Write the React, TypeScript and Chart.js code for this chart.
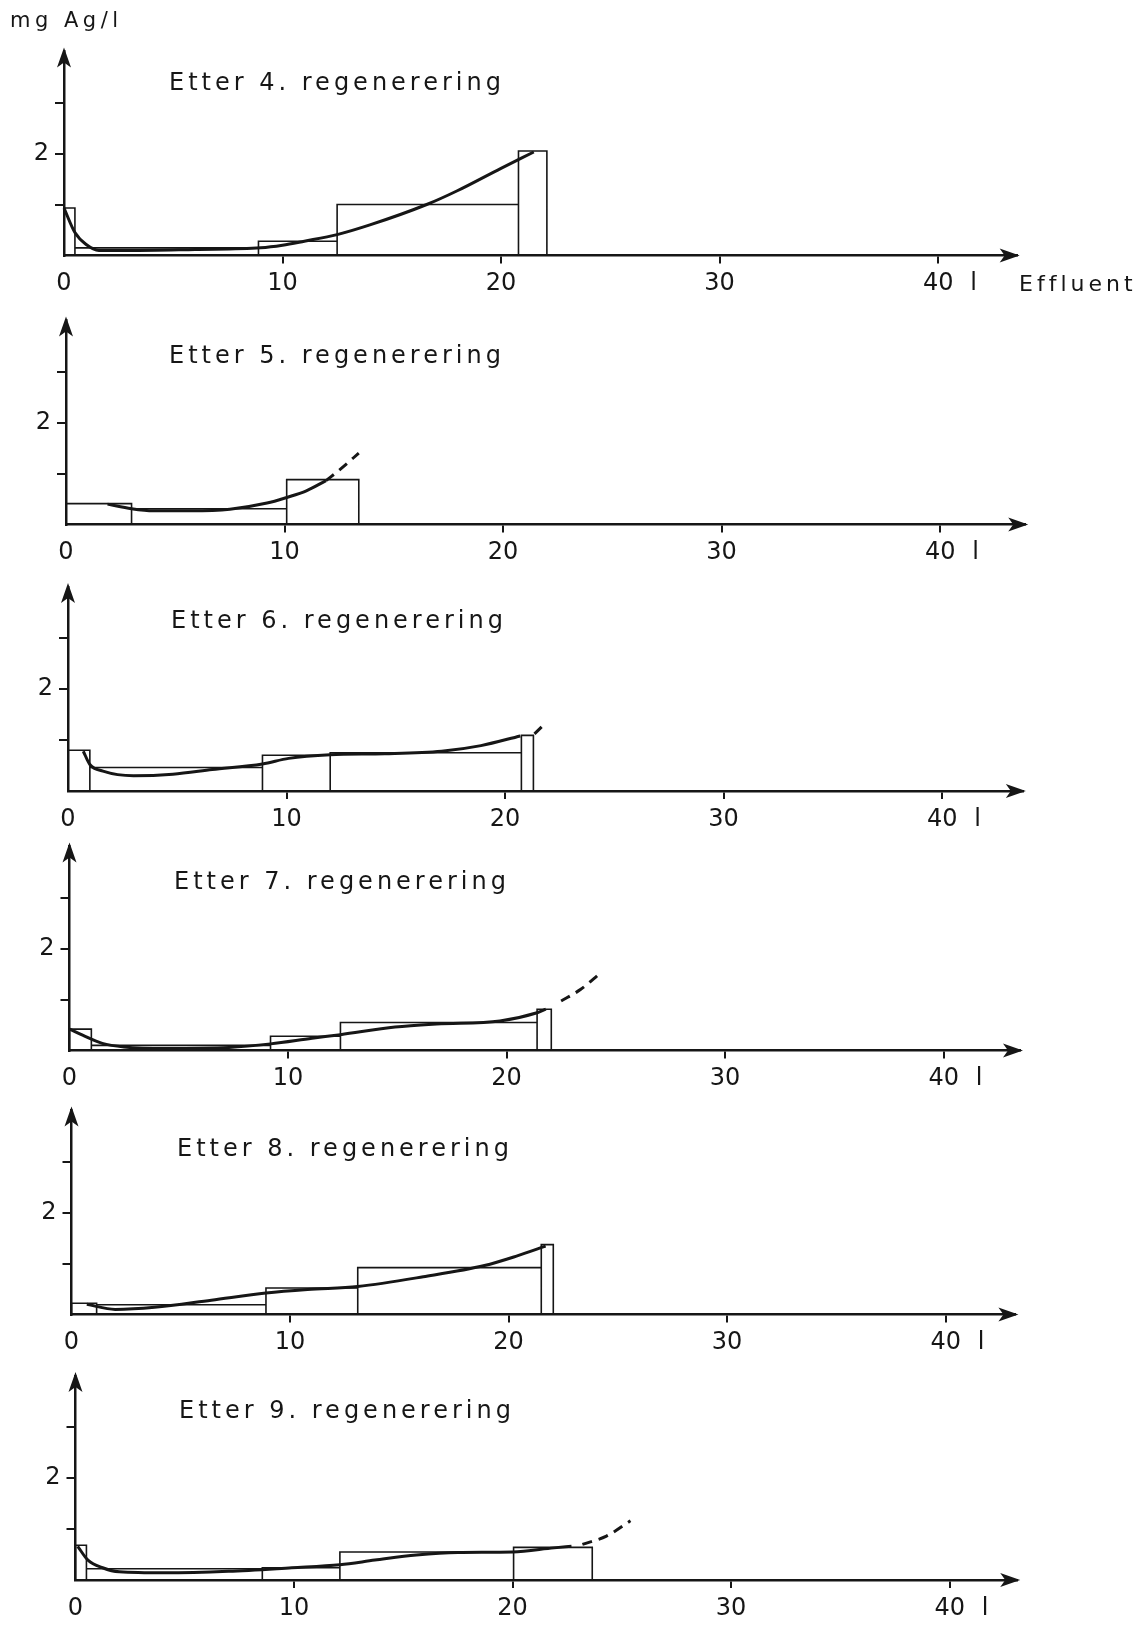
import React, { useEffect, useRef } from "react";
import { Chart, registerables } from "chart.js";

Chart.register(...registerables);

// ---------------- data ----------------
const panelTitles = [
  "Etter 4. regenerering",
  "Etter 5. regenerering",
  "Etter 6. regenerering",
  "Etter 7. regenerering",
  "Etter 8. regenerering",
  "Etter 9. regenerering",
];
const yAxisTitle = "mg Ag/l";
const xAxisTitle = "Effluent";

const xTickValues = [0, 10, 20, 30, 40];
const xTickLabels = ["0", "10", "20", "30", "40 l"];
const yTickValues = [1, 2, 3];
const yTickLabels = ["", "2", ""];

// Etter 4. regenerering
const edges4 = [0, 0.5, 8.9, 12.5, 20.8, 22.1];
const heights4 = [0.93, 0.15, 0.28, 1.0, 2.05];
const curve4X = [0, 0.5, 1, 1.6, 3, 6, 9, 10, 11, 12.5, 14, 16.6, 18, 20, 21.5];
const curve4Y = [0.93, 0.45, 0.22, 0.1, 0.1, 0.12, 0.15, 0.2, 0.28, 0.41, 0.6, 1.0, 1.27, 1.71, 2.03];
const dash4X: number[] = [];
const dash4Y: number[] = [];

// Etter 5. regenerering
const edges5 = [0, 3.0, 10.1, 13.4];
const heights5 = [0.41, 0.31, 0.88];
const curve5X = [1.9, 3, 4, 5.7, 7.5, 9.2, 10.1, 11, 11.9];
const curve5Y = [0.4, 0.31, 0.27, 0.27, 0.3, 0.42, 0.53, 0.66, 0.86];
const dash5X = [11.9, 12.6, 13.4];
const dash5Y = [0.86, 1.1, 1.4];

// Etter 6. regenerering
const edges6 = [0, 1.0, 8.9, 12.0, 20.75, 21.3];
const heights6 = [0.8, 0.46, 0.7, 0.75, 1.09];
const curve6X = [0.7, 1.0, 1.6, 3.0, 4.8, 6.6, 8.9, 10.1, 12, 14.5, 17.1, 18.9, 20.7];
const curve6Y = [0.78, 0.52, 0.39, 0.3, 0.33, 0.42, 0.53, 0.64, 0.71, 0.73, 0.78, 0.89, 1.08];
const dash6X = [21.35, 21.85];
const dash6Y = [1.12, 1.33];

// Etter 7. regenerering
const edges7 = [0, 1.0, 9.2, 12.4, 21.4, 22.05];
const heights7 = [0.42, 0.1, 0.28, 0.55, 0.81];
const curve7X = [0, 0.6, 1.5, 2.5, 4.4, 7.3, 9.2, 11.1, 12.4, 14.9, 16.8, 19.7, 21.4, 21.8];
const curve7Y = [0.42, 0.3, 0.14, 0.07, 0.04, 0.06, 0.13, 0.24, 0.31, 0.46, 0.52, 0.58, 0.74, 0.81];
const dash7X = [22.5, 23.4, 24.3];
const dash7Y = [0.97, 1.2, 1.52];

// Etter 8. regenerering
const edges8 = [0, 1.15, 8.9, 13.1, 21.5, 22.05];
const heights8 = [0.22, 0.19, 0.52, 0.92, 1.37];
const curve8X = [0.7, 2.0, 3.8, 6.4, 8.9, 10.8, 13.1, 16.1, 18.9, 20.4, 21.7];
const curve8Y = [0.2, 0.1, 0.14, 0.28, 0.42, 0.49, 0.55, 0.74, 0.96, 1.15, 1.34];
const dash8X: number[] = [];
const dash8Y: number[] = [];

// Etter 9. regenerering
const edges9 = [0, 0.5, 8.55, 12.1, 20.05, 23.65];
const heights9 = [0.68, 0.22, 0.24, 0.55, 0.64];
const curve9X = [0.1, 0.57, 1.24, 2, 4.1, 7, 9.9, 12.1, 13.7, 15.6, 17.5, 20, 21.9, 22.7];
const curve9Y = [0.66, 0.39, 0.24, 0.16, 0.14, 0.17, 0.24, 0.3, 0.39, 0.49, 0.54, 0.55, 0.63, 0.66];
const dash9X = [23.2, 24.3, 25.4];
const dash9Y = [0.7, 0.86, 1.16];

const panelEdges = [edges4, edges5, edges6, edges7, edges8, edges9];
const panelHeights = [heights4, heights5, heights6, heights7, heights8, heights9];
const panelCurveX = [curve4X, curve5X, curve6X, curve7X, curve8X, curve9X];
const panelCurveY = [curve4Y, curve5Y, curve6Y, curve7Y, curve8Y, curve9Y];
const panelDashX = [dash4X, dash5X, dash6X, dash7X, dash8X, dash9X];
const panelDashY = [dash4Y, dash5Y, dash6Y, dash7Y, dash8Y, dash9Y];

// ---------------- layout / style ----------------
const FONT = "'DejaVu Sans', sans-serif";
const INK = "#161616";
const PAGE_W = 1131;
const PAGE_H = 1618;
const UNIT_X = 21.85;
const UNIT_Y = 51;
const Y_MAX = 4;

const AXIS_X = [64, 66, 68, 69.5, 71.5, 75.5];
const AXIS_Y = [255.5, 524.5, 791, 1050.5, 1314.5, 1580];
const X_MAX = [43.6, 43.9, 43.7, 43.5, 43.2, 43.1];
const TITLE_X = [169, 169, 171, 174, 177, 179];
const TITLE_RISE = [165.5, 161.5, 163.5, 162, 159, 162];

function outline(edges: number[], heights: number[]) {
  const pts: { x: number; y: number }[] = [];
  for (let i = 0; i < heights.length; i++) {
    pts.push({ x: edges[i], y: 0 });
    pts.push({ x: edges[i], y: heights[i] });
    pts.push({ x: edges[i + 1], y: heights[i] });
    pts.push({ x: edges[i + 1], y: 0 });
  }
  return pts;
}

function zip(xs: number[], ys: number[]) {
  return xs.map((x, i) => ({ x, y: ys[i] }));
}

const decoPlugin = {
  id: "deco",
  afterDraw(chart: any) {
    const o = chart.options.plugins.deco;
    const ctx = chart.ctx;
    const xs = chart.scales.x;
    const ys = chart.scales.y;
    const ox = xs.getPixelForValue(0);
    const oy = ys.getPixelForValue(0);
    const top = ys.getPixelForValue(ys.max);
    const right = xs.getPixelForValue(xs.max);
    ctx.save();
    ctx.fillStyle = INK;
    // y arrow head
    ctx.beginPath();
    ctx.moveTo(ox, top - 4);
    ctx.lineTo(ox + 7, top + 16);
    ctx.lineTo(ox, top + 11);
    ctx.lineTo(ox - 7, top + 16);
    ctx.closePath();
    ctx.fill();
    // x arrow head
    ctx.beginPath();
    ctx.moveTo(right + 3, oy);
    ctx.lineTo(right - 17, oy - 7);
    ctx.lineTo(right - 12, oy);
    ctx.lineTo(right - 17, oy + 7);
    ctx.closePath();
    ctx.fill();
    // texts
    ctx.textAlign = "left";
    ctx.textBaseline = "alphabetic";
    ctx.font = `24px ${FONT}`;
    ctx.letterSpacing = "4px";
    ctx.fillText(o.title, o.titleX, oy - o.titleRise);
    if (o.yTitle) {
      ctx.font = `21px ${FONT}`;
      ctx.letterSpacing = "4.5px";
      ctx.fillText(o.yTitle, o.yTitleX, o.yTitleY);
    }
    if (o.xTitle) {
      ctx.font = `22px ${FONT}`;
      ctx.letterSpacing = "4px";
      ctx.fillText(o.xTitle, o.xTitleX, oy + o.xTitleDrop);
    }
    ctx.letterSpacing = "0px";
    ctx.restore();
  },
};

function Panel({ i }: { i: number }) {
  const ref = useRef<HTMLCanvasElement>(null);
  const baseRoot = AXIS_Y[i] - 8;
  const top = i === 0 ? 0 : Math.round(baseRoot - 232);
  const bottom = Math.min(PAGE_H, Math.round(baseRoot + 44));
  const h = bottom - top;
  const left = AXIS_X[i] - 8;
  const plotW = X_MAX[i] * UNIT_X;
  const baseLocal = baseRoot - top;
  const belowAxis = h - baseLocal;

  useEffect(() => {
    if (!ref.current) return;
    const datasets: any[] = [
      {
        data: outline(panelEdges[i], panelHeights[i]),
        borderColor: INK,
        borderWidth: 1.6,
        pointRadius: 0,
        tension: 0,
        fill: false,
        clip: false,
      },
      {
        data: zip(panelCurveX[i], panelCurveY[i]),
        borderColor: INK,
        borderWidth: 3,
        pointRadius: 0,
        cubicInterpolationMode: "monotone",
        fill: false,
        clip: false,
      },
    ];
    if (panelDashX[i].length) {
      datasets.push({
        data: zip(panelDashX[i], panelDashY[i]),
        borderColor: INK,
        borderWidth: 3,
        borderDash: [10, 7],
        pointRadius: 0,
        cubicInterpolationMode: "monotone",
        fill: false,
        clip: false,
      });
    }
    const chart = new Chart(ref.current, {
      type: "line",
      data: { datasets },
      plugins: [decoPlugin as any],
      options: {
        animation: false,
        responsive: false,
        devicePixelRatio: 1,
        events: [],
        layout: {
          autoPadding: false,
          padding: {
            left: 0,
            top: baseLocal - Y_MAX * UNIT_Y,
            right: PAGE_W - left - plotW,
            bottom: 0,
          },
        },
        plugins: {
          legend: { display: false },
          tooltip: { enabled: false },
          title: { display: false },
          deco: {
            title: panelTitles[i],
            titleX: TITLE_X[i] - 8,
            titleRise: TITLE_RISE[i],
            yTitle: i === 0 ? yAxisTitle : null,
            yTitleX: 2,
            yTitleY: 19,
            xTitle: i === 0 ? xAxisTitle : null,
            xTitleX: 1011,
            xTitleDrop: 35,
          },
        } as any,
        scales: {
          x: {
            type: "linear",
            min: 0,
            max: X_MAX[i],
            afterFit: (s: any) => {
              s.height = belowAxis;
            },
            afterBuildTicks: (s: any) => {
              s.ticks = xTickValues.map((v) => ({ value: v }));
            },
            border: { display: true, color: INK, width: 2.5 },
            grid: {
              drawOnChartArea: false,
              drawTicks: true,
              tickLength: 8,
              lineWidth: 2,
              color: (c: any) => (c.tick && c.tick.value === 0 ? "rgba(0,0,0,0)" : INK),
            },
            ticks: {
              autoSkip: false,
              maxRotation: 0,
              minRotation: 0,
              padding: 6,
              color: INK,
              font: { family: FONT, size: 24 },
              callback: (v: any) => {
                const k = xTickValues.indexOf(Number(v));
                const s = k >= 0 ? xTickLabels[k] : "";
                if (s.includes(" ")) {
                  const [a, b] = s.split(" ");
                  return "\u2003" + a + "\u2002\u2009" + b;
                }
                return s;
              },
            },
          },
          y: {
            type: "linear",
            min: 0,
            max: Y_MAX,
            afterFit: (s: any) => {
              s.width = left;
            },
            afterBuildTicks: (s: any) => {
              s.ticks = yTickValues.map((v) => ({ value: v }));
            },
            border: { display: true, color: INK, width: 2.5 },
            grid: {
              drawOnChartArea: false,
              drawTicks: true,
              tickLength: 9,
              lineWidth: 2,
              color: INK,
            },
            ticks: {
              padding: 6,
              color: INK,
              font: { family: FONT, size: 24 },
              callback: (v: any) => {
                const k = yTickValues.indexOf(Number(v));
                return k >= 0 ? yTickLabels[k] : "";
              },
            },
          },
        },
      } as any,
    });
    return () => chart.destroy();
  }, []);

  return (
    <canvas
      ref={ref}
      width={PAGE_W}
      height={h}
      style={{ position: "absolute", left: 0, top, width: PAGE_W, height: h, display: "block" }}
    />
  );
}

export default function App() {
  useEffect(() => {
    document.documentElement.style.overflow = "hidden";
    document.body.style.overflow = "hidden";
  }, []);
  return (
    <div style={{ position: "relative", width: PAGE_W, height: PAGE_H, overflow: "hidden", background: "#fff" }}>
      {panelTitles.map((_, i) => (
        <Panel key={i} i={i} />
      ))}
    </div>
  );
}
